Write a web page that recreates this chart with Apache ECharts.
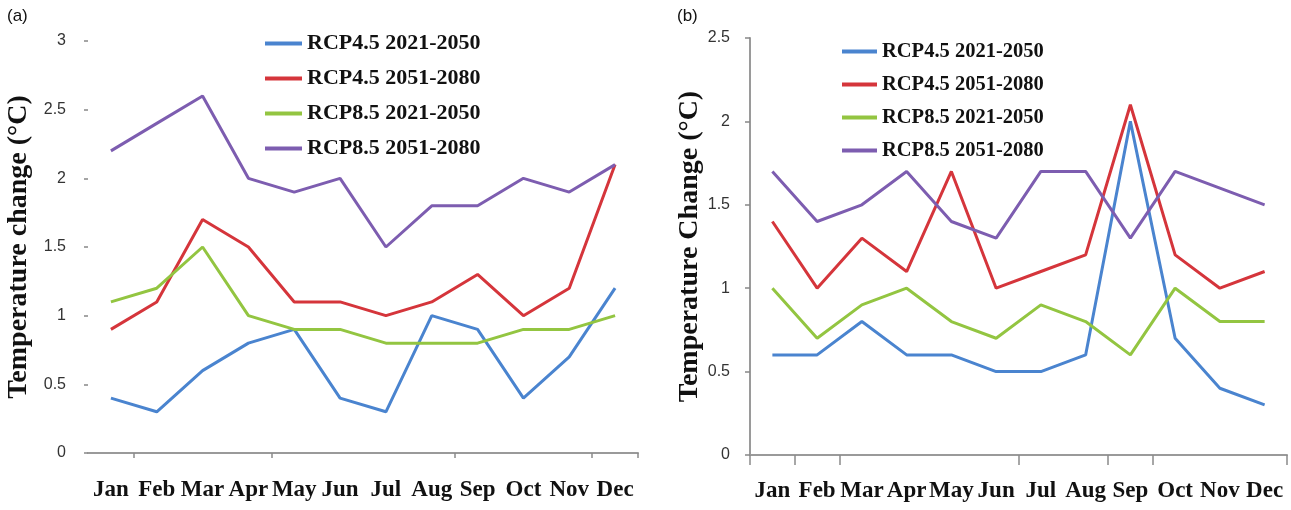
<!DOCTYPE html>
<html>
<head>
<meta charset="utf-8">
<script src="https://cdn.jsdelivr.net/npm/echarts@6/dist/echarts.min.js"></script>
<style>
html,body{margin:0;padding:0;background:#fff;}
#c{width:1291px;height:510px;}
</style>
</head>
<body>
<div id="c"></div>
<script>
// ---- data ----
var months = ['Jan','Feb','Mar','Apr','May','Jun','Jul','Aug','Sep','Oct','Nov','Dec'];
var seriesNames = ['RCP4.5 2021-2050','RCP4.5 2051-2080','RCP8.5 2021-2050','RCP8.5 2051-2080'];

// panel (a)
var a_rcp45_2021 = [0.4,0.3,0.6,0.8,0.9,0.4,0.3,1.0,0.9,0.4,0.7,1.2];
var a_rcp45_2051 = [0.9,1.1,1.7,1.5,1.1,1.1,1.0,1.1,1.3,1.0,1.2,2.1];
var a_rcp85_2021 = [1.1,1.2,1.5,1.0,0.9,0.9,0.8,0.8,0.8,0.9,0.9,1.0];
var a_rcp85_2051 = [2.2,2.4,2.6,2.0,1.9,2.0,1.5,1.8,1.8,2.0,1.9,2.1];

// panel (b)
var b_rcp45_2021 = [0.6,0.6,0.8,0.6,0.6,0.5,0.5,0.6,2.0,0.7,0.4,0.3];
var b_rcp45_2051 = [1.4,1.0,1.3,1.1,1.7,1.0,1.1,1.2,2.1,1.2,1.0,1.1];
var b_rcp85_2021 = [1.0,0.7,0.9,1.0,0.8,0.7,0.9,0.8,0.6,1.0,0.8,0.8];
var b_rcp85_2051 = [1.7,1.4,1.5,1.7,1.4,1.3,1.7,1.7,1.3,1.7,1.6,1.5];

var aTickIdx = [1,4,8,11];
var bTickIdx = [0,1,2,6,8,9];

var colors = ['#4a84cf','#d5353b','#93c541','#7d5db0'];

var aData = [a_rcp45_2021,a_rcp45_2051,a_rcp85_2021,a_rcp85_2051];
var bData = [b_rcp45_2021,b_rcp45_2051,b_rcp85_2021,b_rcp85_2051];

var serif = 'Liberation Serif, Times New Roman, serif';

function mkSeries(data, idx){
  return data.map(function(d,i){
    return {
      type:'line', name:seriesNames[i], data:d,
      xAxisIndex:idx, yAxisIndex:idx,
      showSymbol:false, symbol:'none',
      lineStyle:{width:3, color:colors[i]},
      itemStyle:{color:colors[i]},
      emphasis:{disabled:true},
      z: 2
    };
  });
}

function xAx(idx, ticks, tickLen, fs, margin){
  return {
    type:'category', gridIndex:idx, data:months, boundaryGap:true,
    axisLine:{show:true, lineStyle:{color:'#9a9a9a', width:2}},
    axisTick:{show:true, length:tickLen, lineStyle:{color:'#8a8a8a', width:1.5},
      interval:function(i){ return ticks.indexOf(i) >= 0; }},
    axisLabel:{interval:0, hideOverlap:false, margin:margin, color:'#111',
      fontFamily:serif, fontWeight:'bold', fontSize:fs},
    splitLine:{show:false}
  };
}

var chart = echarts.init(document.getElementById('c'), null, {renderer:'canvas'});
chart.setOption({
  backgroundColor:'#fff',
  animation:false,
  color:colors,
  grid:[
    {left:88, top:41, width:550, height:412, outerBoundsMode:'none', containLabel:false},
    {left:750, top:38, width:537, height:417, outerBoundsMode:'none', containLabel:false}
  ],
  legend:[
    {orient:'vertical', left:265, top:31, padding:0, itemGap:10,
     itemWidth:37, itemHeight:4, icon:'rect', selectedMode:false,
     data:seriesNames,
     textStyle:{fontFamily:serif, fontWeight:'bold', fontSize:22, lineHeight:25, color:'#111'}},
    {orient:'vertical', left:842, top:40, padding:0, itemGap:10,
     itemWidth:35, itemHeight:4, icon:'rect', selectedMode:false,
     data:seriesNames,
     textStyle:{fontFamily:serif, fontWeight:'bold', fontSize:20.5, lineHeight:23, color:'#111'}}
  ],
  xAxis:[
    xAx(0, aTickIdx, 5, 23, 26),
    xAx(1, bTickIdx, 10, 23, 25)
  ],
  yAxis:[
    {type:'value', gridIndex:0, min:0, max:3, interval:0.5,
     axisLine:{show:false}, splitLine:{show:false},
     axisTick:{show:true, length:4, lineStyle:{color:'#888', width:1.5}},
     axisLabel:{margin:22, color:'#333', fontFamily:'Liberation Sans, Arial, sans-serif', fontSize:16},
     name:'Temperature change (°C)', nameLocation:'middle', nameRotate:90, nameGap:55,
     nameTextStyle:{fontFamily:serif, fontWeight:'bold', fontSize:28, color:'#111'}},
    {type:'value', gridIndex:1, min:0, max:2.5, interval:0.5,
     axisLine:{show:true, lineStyle:{color:'#9a9a9a', width:2}}, splitLine:{show:false},
     axisTick:{show:true, length:5, lineStyle:{color:'#888', width:1.5}},
     axisLabel:{margin:20, color:'#333', fontFamily:'Liberation Sans, Arial, sans-serif', fontSize:16},
     name:'Temperature Change (°C)', nameLocation:'middle', nameRotate:90, nameGap:40,
     nameTextStyle:{fontFamily:serif, fontWeight:'bold', fontSize:28, color:'#111'}}
  ],
  graphic:[
    {type:'text', left:7, top:8, style:{text:'(a)', font:'17px Liberation Sans, Arial, sans-serif', fill:'#111'}},
    {type:'text', left:677, top:8, style:{text:'(b)', font:'17px Liberation Sans, Arial, sans-serif', fill:'#111'}}
  ],
  series: mkSeries(aData,0).concat(mkSeries(bData,1))
});
</script>
</body>
</html>
